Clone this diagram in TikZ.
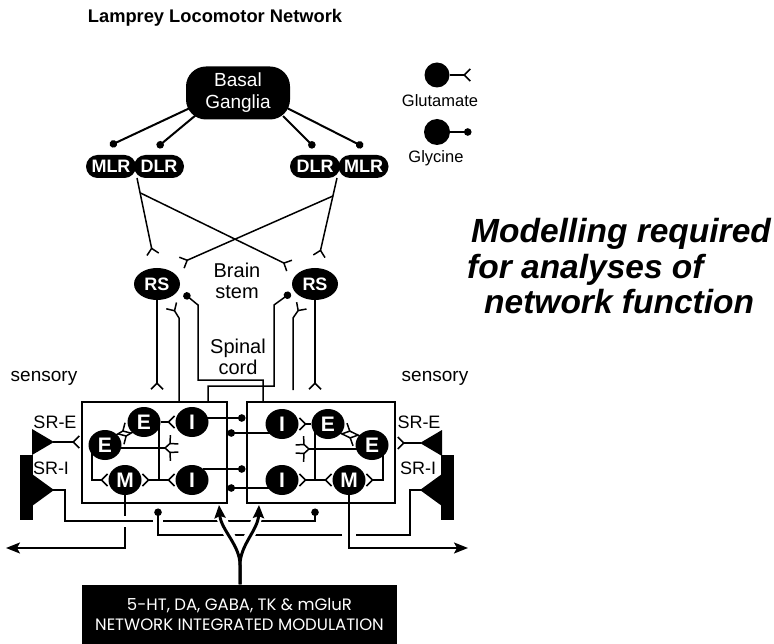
\documentclass[tikz,border=0pt]{standalone}
\usepackage{fontspec}
\setmainfont{Liberation Sans}
\newfontfamily\modfont{Poppins}
\usetikzlibrary{arrows.meta,shapes.geometric}
\pgfdeclarelayer{bg}
\pgfsetlayers{bg,main}
\begin{document}
\begin{tikzpicture}[x=1pt,y=-1pt,
  wire/.style={line width=1.5pt},
  glu/.style={wire,-{Straight Barb[reversed,length=6pt,width=12pt]}},
  gly/.style={wire,-{Circle[length=7.5pt,width=7.5pt]}},
  bgl/.style={line width=2pt,-{Circle[length=7.5pt,width=7.5pt]}},
  neuron/.style={ellipse,fill=black,text=white,inner sep=0pt,minimum width=33pt,minimum height=30pt,font=\bfseries\fontsize{21}{21}\selectfont},
  rs/.style={neuron,minimum width=46pt,minimum height=32pt,font=\bfseries\fontsize{18}{18}\selectfont},
  pill/.style={rectangle,rounded corners=11.5pt,fill=black,text=white,minimum width=50pt,minimum height=23pt,inner sep=0pt,font=\bfseries\fontsize{18}{18}\selectfont},
  lbl/.style={font=\fontsize{20}{21}\selectfont,align=center,inner sep=0pt},
  sr/.style={font=\fontsize{18}{18}\selectfont,inner sep=0pt},
  cbox/.style={draw,line width=2.3pt,inner sep=0pt},
  axon/.style={wire,-{Stealth[length=14pt,width=11pt,inset=3pt]}},
  modarr/.style={line width=3pt,-{Stealth[length=13pt,width=11pt,inset=2pt]}},
  big/.style={anchor=base west,inner sep=0pt,font=\bfseries\itshape\fontsize{33.5}{33.5}\selectfont}
]
\begin{pgfonlayer}{bg}
\fill[white] (0,0) rectangle (774,644);
\end{pgfonlayer}
\useasboundingbox (0,0) rectangle (774,644);

% title
\node[font=\bfseries\fontsize{18.3}{18.3}\selectfont] (title) at (215,18) {Lamprey Locomotor Network};

% basal ganglia and locomotor regions
\node[rectangle,rounded corners=20pt,fill=black,text=white,minimum width=104pt,minimum height=53pt,align=center,inner sep=0pt,font=\fontsize{19}{22}\selectfont] (BG) at (238,93) {Basal\\Ganglia};
\node[pill] (MLRl) at (111,166.5) {MLR};
\node[pill] (DLRl) at (159,166.5) {DLR};
\node[pill] (DLRr) at (315,166.5) {DLR};
\node[pill] (MLRr) at (363.5,166.5) {MLR};

% brainstem
\node[rs] (RSl) at (157,284) {RS};
\node[rs] (RSr) at (315,284) {RS};
\node[lbl] (bstem) at (237,281) {Brain\\stem};
\node[lbl] (scord) at (238,357) {Spinal\\cord};
\node[font=\fontsize{19}{19}\selectfont,inner sep=0pt] (sensL) at (44,378) {sensory};
\node[font=\fontsize{19}{19}\selectfont,inner sep=0pt] (sensR) at (435,378) {sensory};

% spinal boxes
\node[cbox,minimum width=145pt,minimum height=101pt] (boxL) at (154.5,452.5) {};
\node[cbox,minimum width=148pt,minimum height=101pt] (boxR) at (321,452.5) {};

% neurons left
\node[neuron] (EuL) at (144,422) {E};
\node[neuron] (ElL) at (105,445) {E};
\node[neuron] (IuL) at (192,422) {I};
\node[neuron] (IlL) at (192,480) {I};
\node[neuron] (ML) at (125,480) {M};
% neurons right
\node[neuron] (EuR) at (328,424) {E};
\node[neuron] (ErR) at (372,445) {E};
\node[neuron] (IuR) at (282,424) {I};
\node[neuron] (IlR) at (282,480) {I};
\node[neuron] (MR) at (349,480) {M};

% sensory receptors
\fill (32,429) -- (54,442) -- (32,455) -- cycle;
\fill (20,455) rectangle (33,520);
\fill (32,474) -- (54,490) -- (32,506) -- cycle;
\fill (442,430) -- (420,443) -- (442,456) -- cycle;
\fill (441,455) rectangle (454,520);
\fill (442,474) -- (420,490) -- (442,506) -- cycle;
\node[sr] (sreL) at (55,422) {SR-E};
\node[sr] (sriL) at (51,468) {SR-I};
\node[sr] (sreR) at (419,422) {SR-E};
\node[sr] (sriR) at (418,468) {SR-I};

% legend
\node[circle,fill=black,minimum size=25pt,inner sep=0pt] (gluc) at (437,75) {};
\node[circle,fill=black,minimum size=26pt,inner sep=0pt] (glyc) at (437,132) {};
\node[font=\fontsize{16.5}{16.5}\selectfont,inner sep=0pt] (glut) at (440,101) {Glutamate};
\node[font=\fontsize{16.5}{16.5}\selectfont,inner sep=0pt] (glyt) at (436,158) {Glycine};

% big text
\node[big] (t1) at (471,243) {Modelling required};
\node[big] (t2) at (467,279) {for analyses of};
\node[big] (t3) at (484,314) {network function};

% modulation box
\node[fill=black,text=white,minimum width=315pt,minimum height=60pt,align=center,inner sep=0pt,font=\modfont\fontsize{16.5}{20}\selectfont] (mod) at (239.5,614.5) {5-HT, DA, GABA, TK \& mGluR\\NETWORK INTEGRATED MODULATION};

\begin{pgfonlayer}{bg}
% BG projections
\draw[bgl] (190,108) -- (110,145.5);
\draw[bgl] (196,115) -- (157.3,147.2);
\draw[bgl] (283,116) -- (314.5,147.5);
\draw[bgl] (287,108) -- (363,146.6);
% MLR/DLR -> RS
\draw[glu] (137,178) -- (153,255);
\draw[glu] (140.5,193) -- (290,266);
\draw[glu] (337,178) -- (319,257);
\draw[glu] (333,196) -- (181,263);
% RS <-> spinal
\draw[glu] (RSl.south) -- (157,390);
\draw[glu] (179,402) -- (179,318) -- (171,305);
\draw[gly] (263,402) -- (263,380) -- (198,380) -- (198,305) -- (184,293.5);
\draw[glu] (RSr.south) -- (315,390);
\draw[glu] (293,390) -- (293,318) -- (302,305);
\draw[gly] (208,402) -- (208,386) -- (274,386) -- (274,305) -- (290.5,293);
% left box wiring
\draw[glu] (EuL.east) -- (IuL.west);
\draw[wire] (159,422) -- (159,480);
\draw[glu] (159,480) -- (ML.east);
\draw[glu] (159,480) -- (IlL.west);
\draw[wire] (119,448) -- (165,448);
\draw[glu] (165,448) -- (175,439);
\draw[glu] (165,448) -- (175,457);
\draw[glu] (92,452) -- (92,480) -- (ML.west);
\draw[glu] (115.5,435.3) -- (128.7,427.6);
\draw[glu] (133.5,431.7) -- (120.3,439.4);
\draw[glu] (53,442) -- (80,442);
% right box wiring
\draw[glu] (EuR.west) -- (IuR.east);
\draw[wire] (315,424) -- (315,480);
\draw[glu] (315,480) -- (MR.west);
\draw[glu] (315,480) -- (IlR.east);
\draw[wire] (357,449) -- (309,449);
\draw[glu] (309,449) -- (299,440);
\draw[glu] (309,449) -- (299,458);
\draw[glu] (383,455) -- (383,480) -- (MR.east);
\draw[glu] (360.6,436.3) -- (343.7,428.2);
\draw[glu] (339.4,432.7) -- (356.3,440.8);
\draw[glu] (421,443) -- (397,443);
% crossed inhibition
\draw[gly] (203,418) -- (245.5,418);
\draw[gly] (272,433) -- (227.5,433);
\draw[gly] (203,469) -- (245.5,469);
\draw[gly] (272,488) -- (227.5,488);
% sensory crossed lines
\draw[wire] (53,490) -| (65,521) -- (153,521);
\draw[gly] (163,521) -- (315,521) -- (315,508.5);
\draw[wire] (421,490) -| (410,535) -- (356,535);
\draw[gly] (342,535) -- (158,535) -- (158,508.5);
% motor output
\draw[wire] (ML.south) -- (125,516);
\draw[axon] (125,527) -- (125,548) -- (6,548);
\draw[axon] (MR.south) -- (349,548) -- (468,548);
% legend wires
\draw[glu] (gluc.east) -- (471,75);
\draw[gly] (glyc.east) -- (471.5,132);
\end{pgfonlayer}

% modulation arrows with gaps in crossed lines
\begin{scope}
\clip (200,513) rectangle (280,545);
\draw[white,line width=10pt] (240,565) .. controls (240,545) and (221,530) .. (219,505);
\draw[white,line width=10pt] (240,565) .. controls (240,545) and (258,530) .. (259,505);
\end{scope}
\draw[modarr] (mod.north -| 240,0) -- (240,565) .. controls (240,545) and (221,530) .. (219,505);
\draw[modarr] (mod.north -| 240,0) -- (240,565) .. controls (240,545) and (258,530) .. (259,505);
\end{tikzpicture}
\end{document}
